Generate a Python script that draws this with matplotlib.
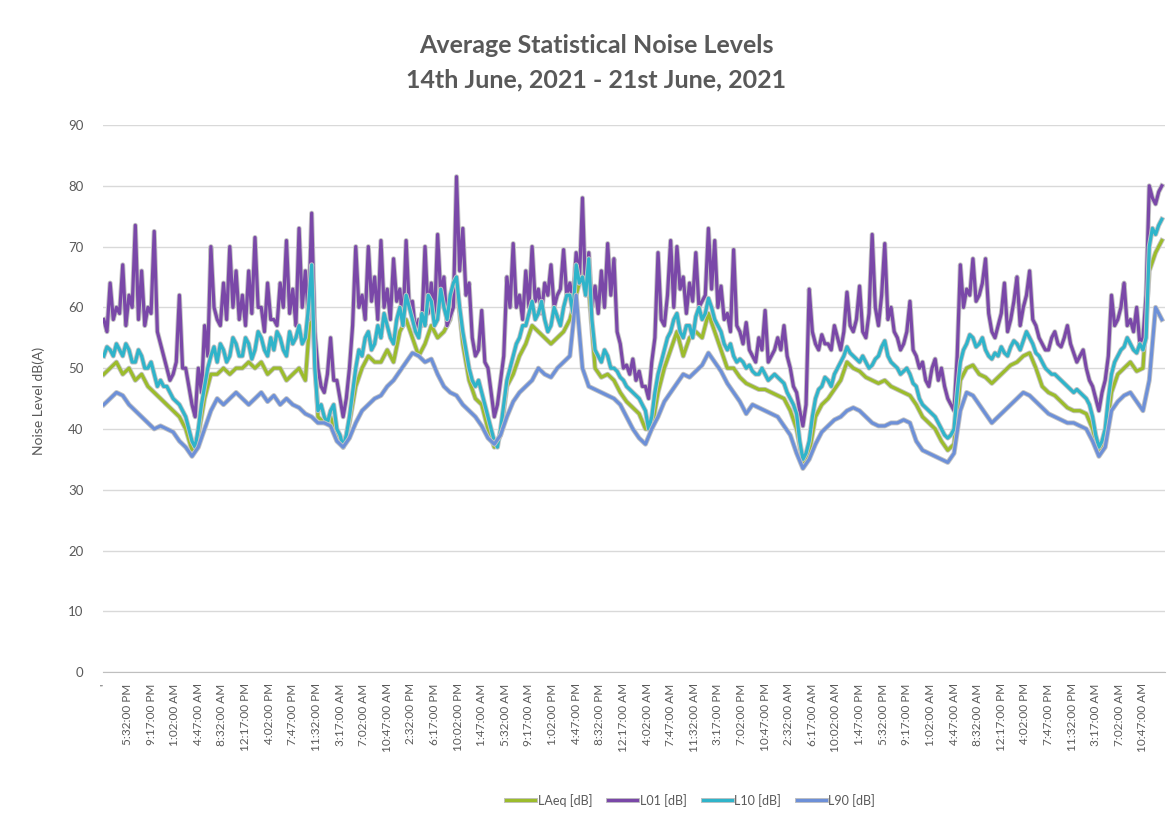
import matplotlib.pyplot as plt
import matplotlib.patheffects as pe
import numpy as np

plt.rcParams['font.family'] = ['Lato', 'DejaVu Sans']

# hourly readings, first one at 1:47 PM on 14 June
laeq = [49, 50, 51, 49, 50, 48, 49, 47, 46, 45, 44, 43, 42, 40, 36.5, 39, 45, 49, 49, 50, 49, 50,
        50, 51, 50, 51, 49, 50, 50, 48, 49, 50, 48, 62, 42, 41, 42, 39, 37, 41, 47, 50, 52, 51,
        51, 53, 51, 56, 58, 55, 52, 54, 57, 55, 56, 58, 64, 54, 48, 45, 44, 40, 37, 39, 47,
        49, 52, 54, 57, 56, 55, 54, 55, 56, 58, 62, 66, 63, 50, 48.5, 49, 48, 46, 44.5, 43.5, 42.5,
        40, 40, 46, 50, 53, 56, 52, 55, 56, 55, 59, 56, 53, 50, 50, 48.5, 47.5, 47, 46.5, 46.5, 46,
        45.5, 45, 43, 40, 34.5, 36, 42, 44, 45, 46.5, 48, 51, 50, 49.5, 48.5, 48, 47.5, 48, 47, 46.5, 46, 45.5,
        44, 42, 41, 40, 38, 36.5, 37.5, 48, 50, 50.5, 49, 48.5, 47.5, 48.5, 49.5, 50.5, 51, 52, 52.5, 50, 47, 46,
        45.5, 44.5, 43.5, 43, 43, 42.5, 40, 36, 38, 46, 49, 50, 51, 49.5, 50, 66, 69, 71]

l01 = [58, 64, 60, 67, 62, 73.5, 66, 60, 72.5, 54, 50, 49, 62, 50, 44, 50, 57, 70, 58, 64, 70, 66,
       62, 66, 71.5, 60, 64, 58, 64, 71, 63, 73, 66, 75.5, 50, 46, 55, 48, 42, 50, 70, 62, 70, 65,
       71, 63, 68, 63, 71, 61, 58, 70, 64, 72, 65, 58.5, 81.5,
       73, 64, 52, 59.5, 50, 42, 48, 65,
       70.5, 62, 66, 70, 63, 64, 67, 62, 69.5, 64, 69, 78, 69, 63.5, 66, 70.5, 68, 54, 50.5, 51.5, 49.5,
       47, 51, 69, 57, 71, 70, 65, 64, 69, 61, 73, 71, 63.5, 59, 69.5, 56, 57.5, 52, 55, 59.5, 52,
       55, 57, 50, 46, 40.5, 63, 54, 55.5, 54, 57, 53, 62.5, 56, 63.5, 55, 72, 57, 70.5, 60, 55, 54, 61,
       52, 51, 47, 51.5, 50, 45, 43, 67, 63, 68, 62, 68, 56, 57, 64, 58, 65, 60, 66, 57, 54, 53,
       56, 53.5, 57, 52.5, 52, 50, 47, 43, 48, 62, 58, 64, 58, 60, 55, 80, 77, 80]

# L01 / L10 readings taken on the half hour in between
l01_half = [56, 58, 59, 57, 60, 58, 57, 59, 56, 52, 48, 51, 50, 47, 42, 46, 52, 60, 57, 58, 60, 58,
            57, 59, 60, 56, 58, 57, 60, 59, 57, 60, 58, 56, 47, 49, 48, 45, 45, 57, 60, 58, 61, 58,
            60, 58, 61, 57, 60, 56, 57, 59, 58, 62, 57, 60, 66, 62, 55, 53, 51, 46, 44, 52, 60,
            60, 58, 60, 61, 59, 62, 60, 63, 62, 61, 64, 62, 60, 59, 60, 62, 56, 50, 49, 48, 47,
            45, 55, 58, 62, 60, 63, 59, 61, 60, 62, 63, 60, 58, 56, 57, 54, 53, 51, 53, 51, 53,
            53, 52, 47, 43, 44, 56, 53, 54, 53, 55, 56, 57, 58, 56, 59, 60, 62, 58, 56, 53, 56, 53,
            50, 48, 50, 48, 47, 44, 52, 60, 62, 61, 64, 59, 55, 59, 56, 61, 57, 62, 58, 55, 53, 55,
            54, 55, 54, 51, 53, 48, 45, 46, 52, 57, 60, 57, 56, 54, 62, 78, 79]

l10 = [52, 53, 54, 52, 53, 51, 52, 50, 49, 48, 47, 45, 44, 42, 38, 40, 47, 52, 51, 53, 52, 54,
       52, 54, 53, 55, 52, 53, 55, 52, 54, 57, 55, 67, 43, 42, 43, 40, 37, 42, 50, 52, 56, 54,
       55, 57, 54, 60, 62, 58, 55, 57, 61, 58, 60, 62, 65, 56, 50, 47, 46, 42, 38, 40, 48,
       52, 55, 57, 61, 59, 58, 57, 58.5, 60, 62, 67, 65, 68, 53, 51, 52, 50, 48.5, 47, 46, 45,
       43, 42, 49, 53, 56, 59, 55, 57, 58.5, 58, 61.5, 58, 56, 53, 52, 51.5, 50, 49.5, 49, 49, 48.5,
       48.5, 47.5, 45, 42.5, 35, 38, 45, 47, 48, 49, 51, 53.5, 52, 51, 51, 50.5, 52, 54.5, 51, 50, 49.5, 49,
       47, 44, 43, 42, 40, 38.5, 40, 51, 54, 55, 54, 53, 51.5, 52, 52.5, 53.5, 54, 54.5, 55, 52.5, 51, 49.5,
       49, 48, 47, 46, 46, 45, 42, 37, 40, 49, 52, 53.5, 54, 52.5, 53, 70, 72, 74.5]

l10_half = [53.5, 52, 53, 54, 51, 53, 50, 51, 47, 47, 46, 44.5, 43, 40, 37, 44, 50, 53.5, 54, 51, 55, 52,
            55, 51.5, 56, 53, 55, 56, 53, 56, 55, 54, 60, 50, 44, 41, 44, 39, 39, 46, 53, 55, 53, 57,
            59, 55, 58, 57, 60, 56, 59, 62, 57, 63, 58, 64, 60, 53, 48, 48, 44, 40, 37, 44, 50,
            54, 57, 59, 58, 61, 56, 60, 57, 62, 59, 64, 62, 58, 52, 53, 50, 49.5, 48, 46.5, 45.5, 44,
            40, 46, 51, 55, 58, 56, 57, 55, 60, 59, 60, 57, 54, 54, 51, 51, 50.5, 49, 50, 48, 49,
            48, 46, 44, 38, 36, 42, 46.5, 48.5, 47, 50, 52, 52.5, 51.5, 52, 50, 51.5, 53.5, 52, 50.5, 49, 50, 47.5,
            45, 43.5, 42.5, 41, 39, 39, 46, 53, 55.5, 53.5, 55, 52, 52.5, 53.5, 52, 54.5, 53, 56, 54, 52, 50, 49,
            48.5, 47.5, 46.5, 46.5, 45.5, 44, 39, 38, 45, 51, 53, 55, 53, 54, 55, 73, 73.5]

l90 = [44, 45, 46, 45.5, 44, 43, 42, 41, 40, 40.5, 40, 39.5, 38, 37, 35.5, 37, 40, 43, 45, 44, 45, 46,
       45, 44, 45, 46, 44.5, 45.5, 44, 45, 44, 43.5, 42.5, 42, 41, 41, 40.5, 38, 37, 38.5, 41, 43, 44, 45,
       45.5, 47, 48, 49.5, 51, 52.5, 52, 51, 51.5, 49, 47, 46, 45.5, 44, 43, 42, 40.5, 38.5, 37.5, 39, 42,
       44.5, 46, 47, 48, 50, 49, 48.5, 50, 51, 52, 62, 50, 47, 46.5, 46, 45.5, 45, 44, 42, 40, 38.5,
       37.5, 40, 42, 44.5, 46, 47.5, 49, 48.5, 49.5, 50.5, 52.5, 51, 49.5, 47.5, 46, 44.5, 42.5, 44, 43.5, 43, 42.5,
       42, 40.5, 39, 36, 33.5, 35, 37.5, 39.5, 40.5, 41.5, 42, 43, 43.5, 43, 42, 41, 40.5, 40.5, 41, 41, 41.5, 41,
       38, 36.5, 36, 35.5, 35, 34.5, 36, 43, 46, 45.5, 44, 42.5, 41, 42, 43, 44, 45, 46, 45.5, 44.5, 43.5, 42.5,
       42, 41.5, 41, 41, 40.5, 40, 38, 35.5, 37, 43, 44.5, 45.5, 46, 44.5, 43, 48, 60, 58]

tick_labels = ["'", '5:32:00 PM', '9:17:00 PM', '1:02:00 AM', '4:47:00 AM', '8:32:00 AM',
               '12:17:00 PM', '4:02:00 PM', '7:47:00 PM', '11:32:00 PM', '3:17:00 AM',
               '7:02:00 AM', '10:47:00 AM', '2:32:00 PM', '6:17:00 PM', '10:02:00 PM',
               '1:47:00 AM', '5:32:00 AM', '9:17:00 AM', '1:02:00 PM', '4:47:00 PM',
               '8:32:00 PM', '12:17:00 AM', '4:02:00 AM', '7:47:00 AM', '11:32:00 AM',
               '3:17:00 PM', '7:02:00 PM', '10:47:00 PM', '2:32:00 AM', '6:17:00 AM',
               '10:02:00 AM', '1:47:00 PM', '5:32:00 PM', '9:17:00 PM', '1:02:00 AM',
               '4:47:00 AM', '8:32:00 AM', '12:17:00 PM', '4:02:00 PM', '7:47:00 PM',
               '11:32:00 PM', '3:17:00 AM', '7:02:00 AM', '10:47:00 AM']


def merge(hourly, half):
    # interleave on-the-hour and half-past readings
    out = np.empty(len(hourly) + len(half))
    out[0::2] = hourly
    out[1::2] = half
    return out


# x in 15-minute slots
x_hour = np.arange(len(laeq)) * 4
x_half = np.arange(len(laeq) * 2 - 1) * 2

series = [('LAeq [dB]', x_hour, laeq, '#9cbc2c'),
          ('L01 [dB]', x_half, merge(l01, l01_half), '#7a48a8'),
          ('L10 [dB]', x_half, merge(l10, l10_half), '#2fb4ca'),
          ('L90 [dB]', x_hour, l90, '#6d90d8')]

grey = '#595959'

fig = plt.figure(figsize=(11.67, 8.36), dpi=100)
ax = fig.add_axes([0.0883, 0.196, 0.910, 0.6545])

for name, xs, vals, col in series:
    ax.plot(xs, vals, color=col, lw=2.3, label=name,
            path_effects=[pe.Stroke(linewidth=3.6, foreground='#c4c4c4'), pe.Normal()])

ax.set_ylim(0, 90)
ax.set_yticks(np.arange(0, 91, 10))
ax.set_xlim(-0.5, 674)
ax.set_xticks(np.arange(len(tick_labels)) * 15)
ax.set_xticklabels(tick_labels, rotation=90)

ax.yaxis.grid(True, color='#d9d9d9', lw=1)
ax.set_axisbelow(True)
for s in ['top', 'right', 'left']:
    ax.spines[s].set_visible(False)
ax.spines['bottom'].set_color('#bfbfbf')
ax.tick_params(axis='y', length=0, pad=14, labelsize=9.5, labelcolor=grey)
ax.tick_params(axis='x', length=0, pad=8, labelsize=8.5, labelcolor=grey)

fig.text(0.511, 0.946, 'Average Statistical Noise Levels', ha='center', va='center',
         fontsize=18, fontweight='bold', color=grey)
fig.text(0.511, 0.904, '14th June, 2021 - 21st June, 2021', ha='center', va='center',
         fontsize=18, fontweight='bold', color=grey)
fig.text(0.033, 0.52, 'Noise Level dB(A)', rotation=90, ha='center', va='center',
         fontsize=10, color=grey)

fig.legend(loc='center', bbox_to_anchor=(0.592, 0.043), ncol=4, frameon=False,
           fontsize=9, labelcolor=grey, handlelength=2.3, handletextpad=0.2,
           columnspacing=1.3)

fig.savefig('out.png', dpi=100)
